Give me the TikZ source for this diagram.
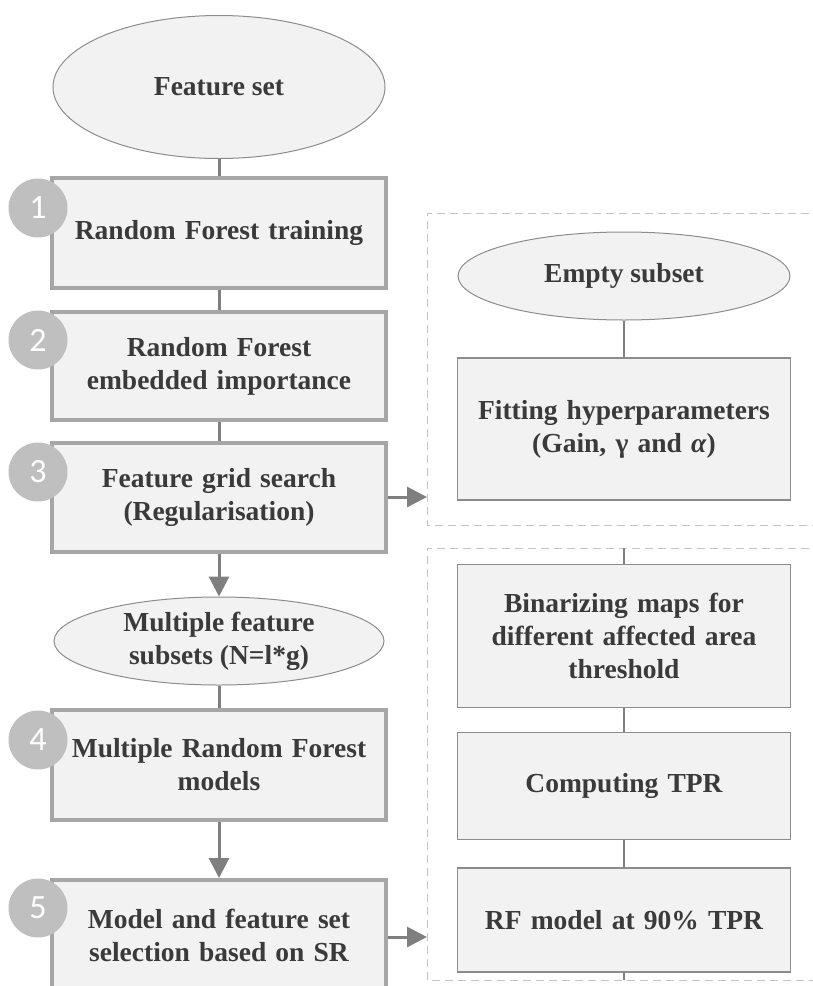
\documentclass[tikz,border=0pt]{standalone}
\usepackage{fontspec}
\setmainfont{Liberation Serif}
\newfontfamily\numfont{Carlito}
\usetikzlibrary{shapes.geometric,arrows.meta}
\definecolor{boxfill}{HTML}{F2F2F2}
\definecolor{boxline}{HTML}{A6A6A6}
\definecolor{thinline}{HTML}{8C8C8C}
\definecolor{conn}{HTML}{7F7F7F}
\definecolor{txt}{HTML}{3A3A3A}
\definecolor{circ}{HTML}{BFBFBF}
\definecolor{dashc}{HTML}{C4C4C4}
\begin{document}
\begin{tikzpicture}[x=1pt,y=-1pt,
  lab/.style={font=\bfseries\fontsize{27.5}{33}\selectfont, text=txt, align=center},
  mainbox/.style={lab, draw=boxline, line width=4pt, fill=boxfill, minimum width=334pt, text width=320pt, inner sep=0pt},
  subbox/.style={lab, draw=thinline, line width=1.2pt, fill=boxfill, minimum width=333pt, text width=320pt, inner sep=0pt},
  ell/.style={lab, ellipse, draw=thinline, line width=1pt, fill=boxfill, inner sep=0pt},
  num/.style={circle, fill=circ, minimum size=59pt, inner sep=0pt, text=white, font=\numfont\fontsize{34}{34}\selectfont},
  conline/.style={draw=conn, line width=3pt},
  thinconn/.style={draw=conn, line width=1.5pt},
  arr/.style={conline, -{Triangle[length=20pt,width=20pt]}},
  frame/.style={draw=dashc, line width=1pt, dash pattern=on 8pt off 5pt}
]
\useasboundingbox (0,0) rectangle (813,986);

% right dashed frames
\draw[frame] (835,213) -- (427,213) -- (427,525) -- (835,525);
\draw[frame] (835,548) -- (427,548) -- (427,980) -- (835,980);
\coordinate (f1in) at (427,497);
\coordinate (f2in) at (427,937);
\coordinate (f2top) at (624,548);
\coordinate (f2bot) at (624,980);

% left column
\node[ell, minimum width=332pt, minimum height=143pt] (fs) at (219,87) {Feature set};
\node[mainbox, minimum height=110pt] (b1) at (219,233) {Random Forest training};
\node[mainbox, minimum height=108pt] (b2) at (219,366) {Random Forest\\embedded importance};
\node[mainbox, minimum height=109pt] (b3) at (219,497) {Feature grid search\\(Regularisation)};
\node[ell, minimum width=330pt, minimum height=88pt] (ms) at (219,641) {Multiple feature\\subsets (N=l*g)};
\node[mainbox, minimum height=110pt] (b4) at (219,765) {Multiple Random Forest\\models};
\node[mainbox, minimum height=110pt] (b5) at (219,935) {Model and feature set\\selection based on SR};

% right column
\node[ell, minimum width=332pt, minimum height=88pt] (es) at (624,276) {Empty subset};
\node[subbox, minimum height=142pt] (fh) at (624,429) {Fitting hyperparameters\\(Gain, γ and \textit{α})};
\node[subbox, minimum height=143pt] (bm) at (624,636) {Binarizing maps for\\different affected area\\threshold};
\node[subbox, minimum height=107pt] (ct) at (624,786) {Computing TPR};
\node[subbox, minimum height=104pt] (rf) at (624,920) {RF model at 90\% TPR};

% connectors left
\draw[conline] (fs) -- (b1);
\draw[conline] (b1) -- (b2);
\draw[conline] (b2) -- (b3);
\draw[arr] (b3) -- (ms);
\draw[conline] (ms) -- (b4);
\draw[arr] (b4) -- (b5);
\draw[arr] (b3.east |- f1in) -- (f1in);
\draw[arr] (b5.east |- f2in) -- (f2in);

% connectors right
\draw[thinconn] (es) -- (fh);
\draw[thinconn] (f2top) -- (bm);
\draw[thinconn] (bm) -- (ct);
\draw[thinconn] (ct) -- (rf);
\draw[thinconn] (rf) -- (f2bot);

% step numbers
\node[num] (n1) at (38,208) {1};
\node[num] (n2) at (38,340) {2};
\node[num] (n3) at (38,472) {3};
\node[num] (n4) at (38,740) {4};
\node[num] (n5) at (38,908) {5};
\end{tikzpicture}
\end{document}
